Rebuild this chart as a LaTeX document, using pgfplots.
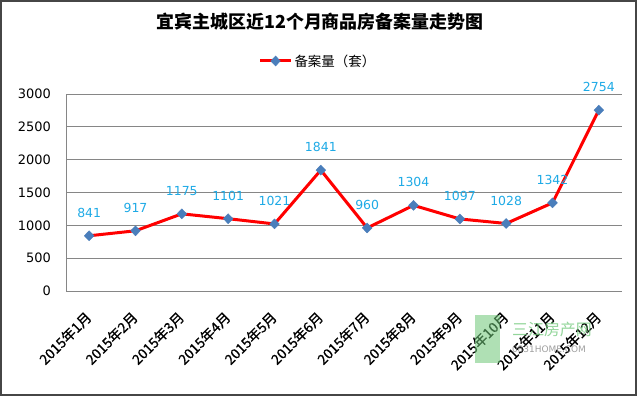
\documentclass[border=0pt]{standalone}
\usepackage{pgfplots}
\pgfplotsset{compat=1.18}
\usepackage{fontspec}
\setmainfont{DejaVu Sans}
\newfontfamily\cjk{Noto Sans CJK SC}
\newfontfamily\cjkfb{Noto Sans CJK SC}[FakeBold=0.8]
\definecolor{lblue}{RGB}{30,170,230}
\definecolor{mkblue}{RGB}{74,126,187}
\definecolor{gridgray}{RGB}{134,134,134}
\definecolor{linered}{RGB}{255,0,0}
\definecolor{framegray}{RGB}{70,70,70}
\definecolor{wmgreen}{RGB}{110,200,120}
\begin{document}
\begin{tikzpicture}
\path[use as bounding box, fill=white] (0,0) rectangle (640bp,398bp);
\draw[line width=2bp, color=framegray] (1bp,2.5bp) rectangle (636bp,397bp);
\node[font=\cjk\bfseries\fontsize{18}{18}\selectfont, inner sep=0pt] at (320bp,376bp) {宜宾主城区近12个月商品房备案量走势图};
\begin{axis}[
  at={(66bp,107bp)}, anchor=south west, scale only axis,
  width=556bp, height=197bp,
  xmin=-0.5, xmax=11.5, ymin=0, ymax=3000,
  ytick={0,500,...,3000},
  xtick={0,...,11},
  xticklabels={2015年1月,2015年2月,2015年3月,2015年4月,2015年5月,2015年6月,2015年7月,2015年8月,2015年9月,2015年10月,2015年11月,2015年12月},
  axis x line=bottom, axis y line=left,
  axis line style={draw=gridgray, line width=0.8bp, -},
  ymajorgrids, grid style={draw=gridgray, line width=0.8bp},
  major tick length=0pt,
  clip=false,
  /pgf/number format/assume math mode=true,
  /pgf/number format/1000 sep={},
  yticklabel style={font=\fontsize{13}{13}\selectfont, inner sep=2bp, xshift=-13bp},
  xticklabel style={font=\cjkfb\fontsize{14}{14}\selectfont, text=black, xshift=-5bp, yshift=-16bp, rotate=45, anchor=north east, inner sep=2bp},
  nodes near coords,
  every node near coord/.append style={font=\fontsize{12.5}{13}\selectfont, text=lblue, anchor=south, inner sep=0pt, yshift=18bp},
  legend style={draw=none, fill=none, at={(0.453,1)}, anchor=center, yshift=33bp,
    font=\cjk\fontsize{13.5}{14}\selectfont},
  legend image code/.code={\draw[mark repeat=2,mark phase=2,#1] plot coordinates {(0bp,0bp) (15.5bp,0bp) (31bp,0bp)};},
]
\addplot[color=linered, line width=3bp, mark=diamond*, mark size=5bp,
  mark options={fill=mkblue, draw=mkblue, line width=0.4bp, xscale=1.3}]
  coordinates {(0,841) (1,917) (2,1175) (3,1101) (4,1021) (5,1841) (6,960) (7,1304) (8,1097) (9,1028) (10,1342) (11,2754)};
\addlegendentry{备案量（套）}
\end{axis}
\fill[wmgreen, opacity=0.55] (475bp,35bp) rectangle (500bp,83bp);
\node[font=\cjk\fontsize{16}{16}\selectfont, text=wmgreen, opacity=0.75, inner sep=0pt] at (552bp,69bp) {三江房产网};
\node[font=\fontsize{9}{9}\selectfont, text=gray, opacity=0.75, inner sep=0pt] at (549bp,49bp) {0831HOME.COM};
\end{tikzpicture}
\end{document}
